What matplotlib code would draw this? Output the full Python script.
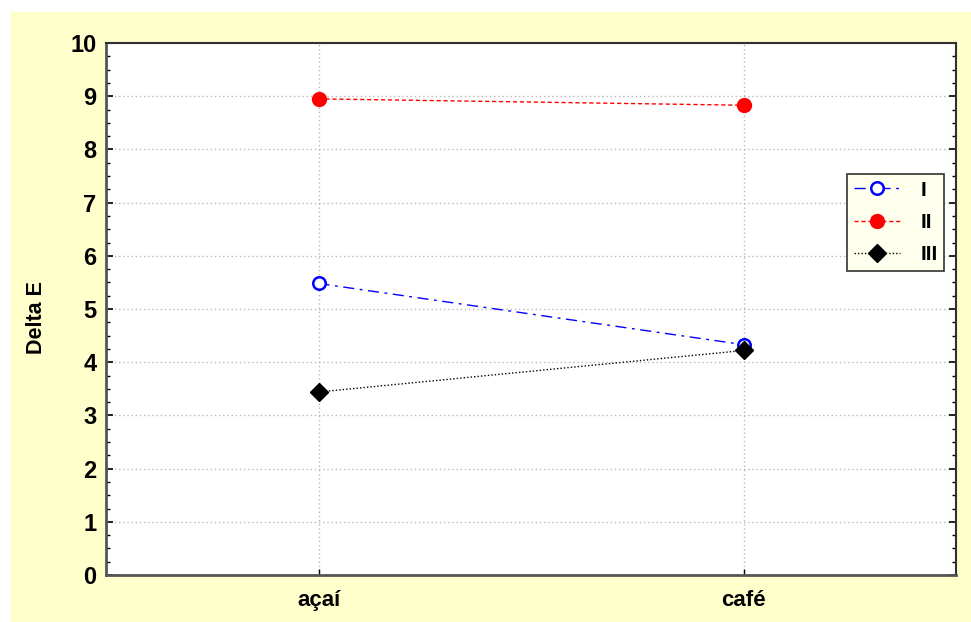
import matplotlib.pyplot as plt
from matplotlib.patches import Rectangle
from matplotlib.ticker import MultipleLocator

# values
categories = ["açaí", "café"]
serie_i = [5.48, 4.33]
serie_ii = [8.95, 8.83]
serie_iii = [3.44, 4.22]
labels = ["I", "II", "III"]

plt.rcParams['font.family'] = ['Liberation Sans', 'DejaVu Sans']
plt.rcParams['font.weight'] = 'bold'

fig = plt.figure(figsize=(9.71, 6.22), dpi=100, facecolor='white')
# yellow panel behind the chart
fig.patches.append(Rectangle((10 / 971, 0), 1, 1 - 12 / 622, transform=fig.transFigure,
                             facecolor='#FFFFCC', edgecolor='none', zorder=-10))

ax = fig.add_axes([106 / 971, 1 - 575 / 622, (956 - 106) / 971, (575 - 43) / 622])
ax.set_facecolor('white')

x = list(range(len(categories)))
ax.plot(x, serie_i, color='blue', linestyle=(0, (8, 4, 2, 4)), linewidth=1,
        marker='o', markersize=9, markerfacecolor='white', markeredgecolor='blue',
        markeredgewidth=1.8, label=labels[0], zorder=3)
ax.plot(x, serie_ii, color='red', linestyle=(0, (3, 2)), linewidth=1,
        marker='o', markersize=10, markerfacecolor='red', markeredgecolor='red',
        label=labels[1], zorder=3)
ax.plot(x, serie_iii, color='black', linestyle=(0, (1, 1.5)), linewidth=1,
        marker='D', markersize=9, markerfacecolor='black', markeredgecolor='black',
        label=labels[2], zorder=3)

ax.set_xlim(-0.5, 1.5)
ax.set_ylim(0, 10)
ax.set_xticks(x)
ax.set_xticklabels(categories, fontsize=16, fontweight='bold')
ax.yaxis.set_major_locator(MultipleLocator(1))
ax.yaxis.set_minor_locator(MultipleLocator(0.25))
ax.tick_params(axis='y', which='major', direction='in', length=5, width=1.2,
               labelsize=17, left=True, right=True, pad=7)
ax.tick_params(axis='y', which='minor', direction='in', length=3, width=1,
               left=True, right=True)
ax.tick_params(axis='x', which='major', direction='in', length=4, width=1,
               labelsize=16, pad=11)
for t in ax.get_yticklabels():
    t.set_fontweight('bold')

ax.grid(True, which='major', color='#b8b8b8', linestyle=(0, (1, 2)), linewidth=1)
ax.set_axisbelow(True)

for side in ['left', 'bottom']:
    ax.spines[side].set_color('#555555')
    ax.spines[side].set_linewidth(2)
for side in ['top', 'right']:
    ax.spines[side].set_color('#303030')
    ax.spines[side].set_linewidth(1.5)

ax.set_ylabel("Delta E", fontsize=15.5, fontweight='bold')
ax.yaxis.set_label_coords((47 - 106) / 850, (575 - 318) / 532)

leg = ax.legend(loc='upper left', bbox_to_anchor=((847 - 106) / 850, 1 - (174 - 43) / 532),
                borderaxespad=0, fontsize=15, frameon=True, fancybox=False,
                borderpad=0.32, labelspacing=0.64, handlelength=2.2, handletextpad=1.0)
leg.get_frame().set_facecolor('#FFFFEE')
leg.get_frame().set_edgecolor('#333333')
leg.get_frame().set_linewidth(1.2)
leg.get_frame().set_alpha(1)
for t in leg.get_texts():
    t.set_fontweight('bold')

fig.savefig("out.png", dpi=100, facecolor=fig.get_facecolor())
